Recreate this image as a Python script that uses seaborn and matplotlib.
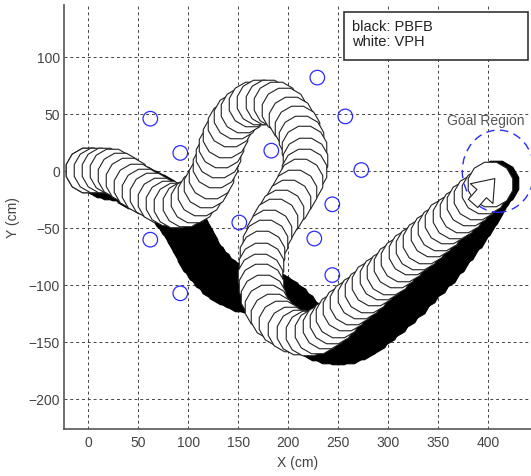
import numpy as np
import pandas as pd
import matplotlib
matplotlib.use("Agg")
import matplotlib.pyplot as plt
from matplotlib.patches import Circle, Rectangle
import seaborn as sns

# trajectory of the robot footprint centres (cm)
# white: VPH
white_x = [0, 8, 16, 24, 32, 40, 48, 56, 64, 72, 80, 88, 97, 105, 112, 118, 123, 127, 130, 133,
           137, 142, 148, 155, 163, 171, 180, 188, 196, 203, 209, 213, 216, 217, 216, 212, 206, 200, 193, 187,
           181, 177, 174, 173, 172, 173, 175, 179, 185, 193, 202, 211, 220, 229, 237, 244, 250, 257, 264, 272,
           279, 286, 294, 301, 308, 315, 323, 330, 337, 345, 352, 359, 367, 374, 381, 388, 396, 402]
white_y = [1, 1, 1, 0, -3, -8, -13, -17, -21, -25, -28, -30, -29, -25, -19, -12, -4, 5, 14, 23,
           32, 41, 48, 54, 59, 61, 61, 59, 54, 46, 38, 29, 20, 10, 0, -9, -18, -27, -36, -44,
           -53, -62, -72, -82, -92, -101, -110, -119, -127, -133, -138, -141, -142, -140, -136, -131, -126, -120, -115, -109,
           -104, -98, -93, -88, -82, -77, -71, -66, -61, -55, -50, -44, -39, -34, -28, -23, -17, -11]

# black: PBFB
black_x = [0, 8, 15, 22, 30, 38, 46, 54, 62, 70, 78, 85, 91, 97, 102, 107, 112, 118, 124, 131,
           138, 145, 153, 161, 169, 177, 185, 193, 201, 208, 215, 222, 230, 240, 250, 260, 270, 280, 290, 300,
           310, 320, 330, 340, 350, 359, 368, 377, 385, 392, 398, 403, 408]
black_y = [1, 0, -3, -5, -6, -8, -13, -16, -19, -23, -28, -34, -41, -49, -57, -65, -73, -80, -87, -93,
           -97, -100, -103, -104, -104, -106, -108, -112, -117, -123, -130, -137, -146, -149, -150, -149, -145, -140, -133, -126,
           -118, -110, -101, -92, -83, -73, -63, -52, -42, -32, -23, -16, -10]

# obstacles
obs_x = [62, 92, 183, 229, 257, 273, 244, 151, 226, 62, 244, 92]
obs_y = [46, 16, 18, 82, 48, 1, -29, -45, -59, -60, -91, -107]

# goal region
goal_x, goal_y, goal_r = 410, 0, 36

BLUE = "#2b2bff"
GRAY = "#444444"


def desenhar():
    sns.set_style("white")
    plt.rcParams["font.family"] = ["Liberation Sans", "DejaVu Sans"]

    fig = plt.figure(figsize=(5.31, 4.76), dpi=100)
    ax = fig.add_axes([0.1209, 0.0977, 0.8791, 0.8918])

    df_w = pd.DataFrame({"x": white_x, "y": white_y})
    df_b = pd.DataFrame({"x": black_x, "y": black_y})
    df_o = pd.DataFrame({"x": obs_x, "y": obs_y})

    # obstacles under the footprints
    sns.scatterplot(df_o, x="x", y="y", marker="o", s=110, color=BLUE, facecolor="none",
                    edgecolor=BLUE, linewidth=0.9, ax=ax, zorder=1)

    # footprints: 12-gons, later ones painted over earlier ones
    foot = (12, 0, 15)
    sns.scatterplot(df_b, x="x", y="y", marker=foot, s=1100, color="black",
                    edgecolor="black", linewidth=0.8, ax=ax, zorder=2)
    sns.scatterplot(df_w, x="x", y="y", marker=foot, s=1100, color="white",
                    edgecolor="#222222", linewidth=0.8, ax=ax, zorder=3)

    # heading arrow on the last white footprint
    dx = white_x[-1] - white_x[-2]
    dy = white_y[-1] - white_y[-2]
    u = np.array([dx, dy]) / np.hypot(dx, dy)
    end = np.array([white_x[-1], white_y[-1]])
    L = 36
    tail = end - 0.75 * L * u
    head = end + 0.25 * L * u
    ax.annotate("", xy=head, xytext=tail, zorder=5,
                arrowprops=dict(arrowstyle="simple,head_width=1.2,head_length=0.8,tail_width=0.5",
                                mutation_scale=18, fc="white", ec="#222222", lw=0.8))

    # goal region
    ax.add_patch(Circle((goal_x, goal_y), goal_r, fill=False, ec=BLUE, lw=1.0,
                        linestyle=(0, (6, 4)), zorder=4))
    ax.text(goal_x - 13, goal_y + 44, "Goal Region", ha="center", va="center",
            fontsize=10, color="#555555", zorder=6)

    # text box in the corner
    ax.add_patch(Rectangle((0.5994, 0.870), 0.3942, 0.113, transform=ax.transAxes,
                           fc="white", ec="#333333", lw=1.2, zorder=6))
    ax.text(0.616, 0.948, "black: PBFB", transform=ax.transAxes, ha="left", va="center",
            fontsize=10.5, color="#222222", zorder=7)
    ax.text(0.616, 0.912, "white: VPH", transform=ax.transAxes, ha="left", va="center",
            fontsize=10.5, color="#222222", zorder=7)

    ax.set_xlim(-24.1, 442.7)
    ax.set_ylim(-226.3, 145.6)
    ax.set_xticks(range(0, 401, 50))
    ax.set_yticks(range(-200, 101, 50))
    ax.set_axisbelow(True)
    ax.grid(True, color="#444444", linestyle=(0, (3, 3)), linewidth=0.7)
    ax.tick_params(direction="in", length=4, width=0.8, color=GRAY, labelcolor=GRAY, labelsize=10)
    ax.tick_params(axis="x", pad=5)
    ax.tick_params(axis="y", pad=3)
    for s in ["top", "right"]:
        ax.spines[s].set_visible(False)
    for s in ["left", "bottom"]:
        ax.spines[s].set_color("#555555")
        ax.spines[s].set_linewidth(1.2)
    ax.set_xlabel("X (cm)", fontsize=10, color=GRAY, labelpad=4)
    ax.set_ylabel("Y (cm)", fontsize=10, color=GRAY, labelpad=6)

    fig.savefig("out.png", dpi=100)


if __name__ == "__main__":
    desenhar()
